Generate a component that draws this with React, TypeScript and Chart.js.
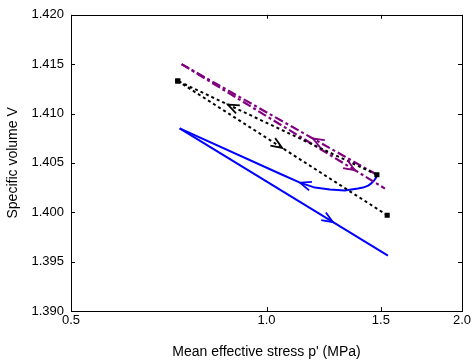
import React, { useEffect, useRef } from 'react';
import { Chart, registerables } from 'chart.js';

Chart.register(...registerables);

// Axis ticks
const xTicks = [0.5, 1.0, 1.5, 2.0];
const yTicks = [1.39, 1.395, 1.4, 1.405, 1.41, 1.415, 1.42];

// Series (p' in MPa, specific volume V)
const blackLoadP = [0.73, 1.534];
const blackLoadV = [1.4133, 1.3997];
const blackUnloadP = [1.479, 0.73];
const blackUnloadV = [1.4038, 1.4133];
const purpleLoadP = [0.74, 1.522];
const purpleLoadV = [1.415, 1.4024];
const purpleUnloadP = [1.479, 0.74];
const purpleUnloadV = [1.4038, 1.415];
const blueLoadP = [0.735, 1.538];
const blueLoadV = [1.4085, 1.3956];
const blueUnloadP = [1.479, 1.474, 1.464, 1.448, 1.434, 1.408, 1.383, 1.32, 1.252, 1.187, 1.126, 1.049, 0.735];
const blueUnloadV = [1.4038, 1.4035, 1.4032, 1.4029, 1.4027, 1.4025, 1.4024, 1.4022, 1.4023, 1.4025, 1.403, 1.4039, 1.4085];

// Arrow heads: dataset index and p' at the arrow tip
const arrowSeries = [0, 1, 2, 3, 4, 5];
const arrowP = [1.057, 0.872, 1.368, 1.179, 1.266, 1.126];

const FONT = "'Liberation Sans', Arial, Helvetica, sans-serif";

const toPts = (p: number[], v: number[]) => p.map((x, i) => ({ x, y: v[i] }));

const arrowPlugin = {
  id: 'arrows',
  afterDatasetsDraw(chart: any) {
    const ctx = chart.ctx;
    const xs = chart.scales.x;
    ctx.save();
    arrowSeries.forEach((di, k) => {
      const ds = chart.data.datasets[di];
      const pts = chart.getDatasetMeta(di).data;
      const tx = xs.getPixelForValue(arrowP[k]);
      for (let i = 0; i < pts.length - 1; i++) {
        const a = pts[i], b = pts[i + 1];
        const lo = Math.min(a.x, b.x), hi = Math.max(a.x, b.x);
        if (tx >= lo && tx <= hi && hi > lo) {
          const t = (tx - a.x) / (b.x - a.x);
          const ty = a.y + t * (b.y - a.y);
          const ang = Math.atan2(b.y - a.y, b.x - a.x);
          const len = 12, spread = 0.38;
          ctx.strokeStyle = ds.borderColor;
          ctx.lineWidth = 1.8;
          ctx.setLineDash([]);
          ctx.beginPath();
          ctx.moveTo(tx - len * Math.cos(ang - spread), ty - len * Math.sin(ang - spread));
          ctx.lineTo(tx, ty);
          ctx.lineTo(tx - len * Math.cos(ang + spread), ty - len * Math.sin(ang + spread));
          ctx.stroke();
          break;
        }
      }
    });
    ctx.restore();
  },
};

const framePlugin = {
  id: 'frame',
  afterDatasetsDraw(chart: any) {
    const { ctx, chartArea: a, scales } = chart;
    const tl = 4;
    ctx.save();
    ctx.strokeStyle = '#000';
    ctx.lineWidth = 1;
    ctx.setLineDash([]);
    ctx.strokeRect(Math.round(a.left) + 0.5, Math.round(a.top) + 0.5, Math.round(a.right - a.left), Math.round(a.bottom - a.top));
    ctx.beginPath();
    xTicks.forEach((v) => {
      const x = Math.round(scales.x.getPixelForValue(v)) + 0.5;
      ctx.moveTo(x, a.bottom);
      ctx.lineTo(x, a.bottom - tl);
      ctx.moveTo(x, a.top);
      ctx.lineTo(x, a.top + tl);
    });
    yTicks.forEach((v) => {
      const y = Math.round(scales.y.getPixelForValue(v)) + 0.5;
      ctx.moveTo(a.left, y);
      ctx.lineTo(a.left + tl, y);
      ctx.moveTo(a.right, y);
      ctx.lineTo(a.right - tl, y);
    });
    ctx.stroke();
    ctx.restore();
  },
};

export default function App() {
  const ref = useRef<HTMLCanvasElement | null>(null);
  useEffect(() => {
    if (!ref.current) return;
    const common = { showLine: true, fill: false, tension: 0, pointRadius: 0, pointHoverRadius: 0 };
    const chart = new Chart(ref.current, {
      type: 'scatter',
      data: {
        datasets: [
          { ...common, data: toPts(blackLoadP, blackLoadV), borderColor: '#000', borderWidth: 2, borderDash: [3, 3], pointRadius: 3.6, pointStyle: 'rect', pointBackgroundColor: '#000', pointBorderWidth: 0 },
          { ...common, data: toPts(blackUnloadP, blackUnloadV), borderColor: '#000', borderWidth: 2, borderDash: [3, 3], pointRadius: 3.6, pointStyle: 'rect', pointBackgroundColor: '#000', pointBorderWidth: 0 },
          { ...common, data: toPts(purpleLoadP, purpleLoadV), borderColor: '#800080', borderWidth: 2.2, borderDash: [9, 3, 3, 3] },
          { ...common, data: toPts(purpleUnloadP, purpleUnloadV), borderColor: '#800080', borderWidth: 2.2, borderDash: [9, 3, 3, 3] },
          { ...common, data: toPts(blueLoadP, blueLoadV), borderColor: '#0000ff', borderWidth: 2 },
          { ...common, data: toPts(blueUnloadP, blueUnloadV), borderColor: '#0000ff', borderWidth: 2 },
        ],
      } as any,
      options: {
        animation: false,
        responsive: true,
        maintainAspectRatio: false,
        layout: { padding: { left: 0, right: 12, top: 13, bottom: 0 } },
        plugins: { legend: { display: false }, tooltip: { enabled: false } },
        scales: {
          x: {
            type: 'logarithmic',
            min: 0.5,
            max: 2.0,
            afterBuildTicks: (s: any) => { s.ticks = xTicks.map((v) => ({ value: v })); },
            afterFit: (s: any) => { s.height = 51; },
            ticks: { callback: (v: any) => Number(v).toFixed(1), color: '#000', font: { family: FONT, size: 13 }, padding: 2, maxRotation: 0, autoSkip: false },
            grid: { display: false, drawTicks: false },
            border: { display: false },
            title: { display: true, text: "Mean effective stress p' (MPa)", color: '#000', font: { family: FONT, size: 14 }, padding: { top: 0, bottom: 1 } },
          },
          y: {
            type: 'linear',
            min: 1.39,
            max: 1.42,
            afterBuildTicks: (s: any) => { s.ticks = yTicks.map((v) => ({ value: v })); },
            afterFit: (s: any) => { s.width = 71; },
            ticks: { callback: (v: any) => Number(v).toFixed(3), color: '#000', font: { family: FONT, size: 13 }, padding: 7 },
            grid: { display: false, drawTicks: false },
            border: { display: false },
            title: { display: true, text: 'Specific volume V', color: '#000', font: { family: FONT, size: 14 }, padding: { top: 5, bottom: 0 } },
          },
        },
      } as any,
      plugins: [framePlugin, arrowPlugin],
    });
    return () => chart.destroy();
  }, []);
  return (
    <div style={{ position: 'fixed', left: 0, top: 0, width: 474, height: 362, background: '#fff' }}>
      <canvas ref={ref} />
    </div>
  );
}
